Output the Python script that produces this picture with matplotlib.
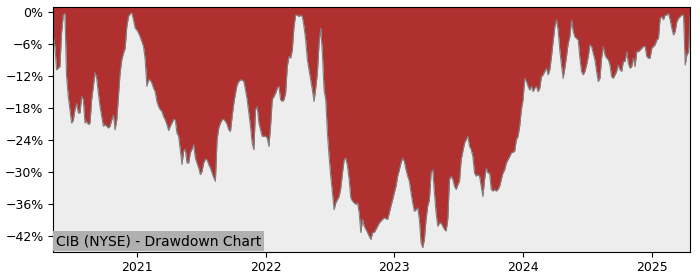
import matplotlib
matplotlib.use("Agg")
import matplotlib.pyplot as plt
import matplotlib.dates as mdates
from matplotlib.ticker import PercentFormatter, MultipleLocator
import pandas as pd

# drawdown in percent, evenly spaced between first and last date
first_date = "2020-05-07"
last_date = "2025-04-20"
drawdown = [
  -4.25, -6.4, -10.8, -10.5, -10.2, -3.9, -0.5, -0.2, -12.1, -15.8,
  -18.3, -20.8, -20.3, -18.3, -17.1, -18.9, -18.9, -15.8, -16.4, -20.8,
  -20.5, -21.1, -20.8, -16.4, -13.9, -11.3, -12.4, -15.2, -17.7, -19.6,
  -21.4, -21.1, -21.4, -21.75, -21.4, -20.2, -19.25, -22.1, -20.2, -15.8,
  -11.4, -8.9, -7.7, -6.75, -2.7, -0.8, -0.3, -0.1, -1.4, -3.0,
  -3.3, -3.9, -4.6, -5.5, -6.4, -8.9, -13.9, -12.7, -12.7, -13.3,
  -14.25, -14.9, -16.75, -17.7, -18.3, -18.6, -19.6, -20.2, -21.1, -22.2,
  -21.4, -20.8, -20.1, -20.2, -22.7, -23.3, -25.8, -28.6, -26.1, -25.7,
  -28.3, -28.3, -26.4, -25.7, -24.9, -27.4, -28.3, -29.25, -30.5, -29.9,
  -28.3, -27.6, -27.7, -28.6, -29.25, -30.2, -31.1, -31.75, -23.9, -21.75,
  -20.8, -20.2, -20.1, -20.5, -21.1, -22.1, -22.4, -19.6, -17.1, -15.2,
  -13.6, -13.0, -12.7, -12.7, -13.0, -14.6, -16.4, -18.9, -21.4, -24.6,
  -25.8, -18.3, -17.7, -20.8, -22.1, -23.3, -23.3, -23.3, -23.6, -25.2,
  -21.4, -16.4, -15.8, -15.2, -14.25, -13.9, -16.4, -16.75, -16.4, -15.2,
  -10.2, -8.3, -8.6, -7.1, -2.7, -0.5, -0.5, -0.8, -0.5, -0.8,
  -2.7, -5.2, -8.9, -10.8, -12.7, -14.6, -16.75, -14.25, -11.4, -5.8,
  -3.0, -7.7, -14.6, -16.4, -22.7, -27.1, -30.8, -33.9, -37.1, -35.8,
  -35.2, -34.6, -33.0, -30.2, -27.7, -27.4, -28.9, -31.4, -34.9, -35.5,
  -35.8, -36.1, -35.8, -37.7, -41.4, -38.9, -40.2, -40.8, -41.4, -42.1,
  -42.7, -41.4, -41.4, -40.8, -40.2, -39.6, -39.25, -38.9, -38.6, -38.8,
  -38.9, -37.7, -36.4, -35.2, -33.9, -32.7, -30.8, -29.6, -28.3, -27.4,
  -28.0, -29.6, -30.8, -31.75, -33.9, -35.8, -37.4, -37.1, -36.75, -38.9,
  -43.3, -44.25, -42.7, -38.9, -36.4, -35.2, -30.2, -29.6, -33.9, -37.7,
  -40.2, -39.6, -39.6, -40.2, -40.8, -41.1, -38.9, -31.4, -30.8, -31.4,
  -32.7, -33.3, -32.4, -31.75, -27.7, -26.1, -24.6, -23.9, -23.3, -25.2,
  -25.8, -27.1, -30.2, -30.8, -30.5, -30.8, -32.7, -34.6, -31.4, -29.25,
  -30.2, -30.2, -33.3, -33.6, -33.3, -33.6, -33.3, -32.7, -31.4, -30.2,
  -29.6, -28.3, -27.7, -27.1, -26.4, -26.3, -26.1, -23.9, -23.3, -21.4,
  -18.3, -16.4, -12.4, -13.0, -13.9, -14.6, -13.9, -14.9, -14.25, -13.9,
  -14.9, -14.25, -12.1, -11.75, -11.1, -10.5, -11.75, -10.8, -8.3, -5.5,
  -2.7, -1.4, -3.3, -7.1, -9.9, -12.4, -10.5, -8.3, -5.8, -4.6,
  -1.4, -3.6, -4.6, -4.9, -5.2, -8.6, -11.1, -11.75, -11.1, -9.9,
  -8.3, -6.1, -6.4, -7.7, -8.9, -11.1, -13.0, -12.4, -8.6, -6.4,
  -8.0, -8.6, -8.9, -9.9, -12.1, -12.4, -11.75, -11.1, -9.9, -10.8,
  -11.1, -9.25, -9.25, -7.4, -9.6, -10.5, -10.2, -8.6, -10.2, -7.4,
  -7.4, -7.1, -6.75, -6.4, -6.4, -8.3, -8.6, -8.6, -6.75, -6.4,
  -6.1, -5.2, -4.9, -1.1, -0.8, -1.4, -0.5, -0.5, -0.2, -1.4,
  -3.0, -4.25, -3.6, -1.75, -1.1, -0.8, -0.5, -0.5, -9.9, -8.0,
  -7.4, -0.5,
]
title = "CIB (NYSE) - Drawdown Chart"

dates = pd.date_range(first_date, last_date, periods=len(drawdown))
ytop = 0.95
ybot = -45.0

fig = plt.figure(figsize=(7, 2.8), dpi=100)
ax = fig.add_axes([0.076, 0.101, 0.910, 0.873])
ax.set_facecolor("#ededed")
ax.fill_between(dates, drawdown, ytop, color="#b03030", lw=0)
ax.plot(dates, drawdown, color="#808080", lw=0.8)

ax.set_xlim(dates[0], dates[-1])
ax.set_ylim(ybot, ytop)
ax.yaxis.set_major_locator(MultipleLocator(6))
ax.yaxis.set_major_formatter(PercentFormatter(xmax=100, decimals=0))
ax.xaxis.set_major_locator(mdates.YearLocator())
ax.xaxis.set_major_formatter(mdates.DateFormatter("%Y"))
ax.tick_params(labelsize=9)

ax.annotate(title, xy=(0, 0), xycoords="axes fraction", xytext=(2, 2.5), textcoords="offset points",
            fontsize=10, ha="left", va="bottom",
            bbox=dict(facecolor="#b0b0b0", edgecolor="none", pad=2))

fig.savefig("out.png")
